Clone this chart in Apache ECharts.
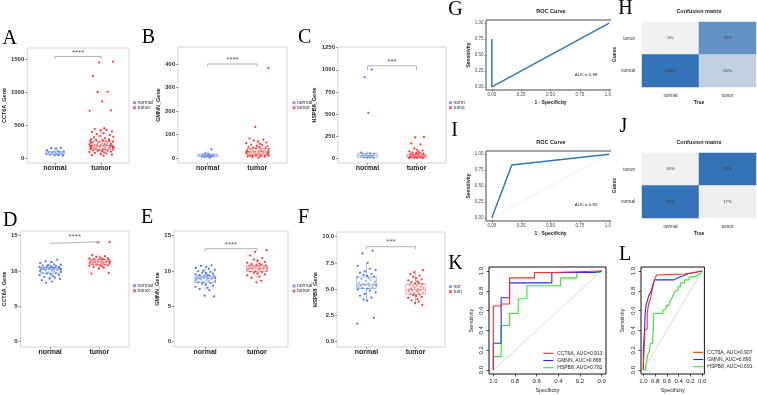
<!DOCTYPE html>
<html>
<head>
<meta charset="utf-8">
<script src="https://cdn.jsdelivr.net/npm/echarts@6/dist/echarts.min.js"></script>
<style>
  html, body { margin: 0; background: #fff; }
  #main { width: 757px; height: 395px; }
</style>
</head>
<body>
<div id="main"></div>
<script>
// ---- data ----
const groups = ['normal', 'tumor'];

// A: CCT6A counts
const aNormal = [152, 148, 141, 118, 104, 97, 91, 86, 80, 77, 73, 68, 64, 58, 52, 47, 41, 36];
const aTumor = [1462, 1448, 1243, 1004, 998, 858, 722, 716,
  452, 438, 425, 418, 405, 392, 376, 361, 348, 333, 322, 311, 298, 287, 281, 274, 266, 259, 252, 247,
  241, 236, 229, 224, 218, 213, 208, 204, 199, 195, 191, 187, 183, 178, 174, 171, 167, 163, 159, 156,
  152, 148, 144, 139, 135, 131, 127, 122, 118, 113, 108, 102, 96, 89, 83, 76, 68, 59, 51, 42, 33,
  197, 186, 172, 161, 149, 214, 232, 256, 141, 126, 179, 203, 168];
const aBox = [[35, 50, 76, 100, 160], [30, 126, 191, 252, 440]];

// B: GMNN counts
const bNormal = [38, 21, 17, 15, 14, 13, 12.5, 12, 11, 10.5, 10, 9, 8, 7, 5, 3];
const bTumor = [382, 133, 84, 79, 75, 71, 67, 64, 61, 58, 56, 53, 51, 49, 47, 45, 43, 42, 40, 39, 37,
  36, 34, 33, 32, 31, 30, 29, 28, 27, 26, 25, 24, 23, 22, 21, 20, 19, 18, 17, 16, 15, 14, 13, 12, 11,
  10, 9, 8, 7, 5, 3, 29, 33, 22, 18, 26];
const bBox = [[3, 7, 12.5, 18, 30], [0, 14, 28, 42, 80]];

// C: HSPB8 counts
const cNormal = [1003, 917, 515, 64, 57, 51, 46, 41, 36, 33, 29, 26, 22, 18, 14, 11, 8, 5];
const cTumor = [242, 236, 168, 158, 112, 96, 88, 79, 73, 67, 62, 58, 53, 49, 46, 42, 39, 36, 33, 31,
  29, 27, 25, 23, 21, 19, 17, 15, 13, 11, 9, 7, 5, 3, 1];
const cBox = [[0, 11, 32, 56, 75], [0, 15, 27, 45, 90]];

// D: CCT6A expression
const dNormal = [11.62, 11.38, 11.27, 11.13, 10.96, 10.91, 10.83, 10.79, 10.74, 10.68, 10.66, 10.58,
  10.55, 10.51, 10.47, 10.46, 10.41, 10.39, 10.37, 10.34, 10.31, 10.3, 10.27, 10.25, 10.22, 10.19,
  10.16, 10.12, 10.08, 10.03, 9.98, 9.94, 9.87, 9.83, 9.76, 9.72, 9.66, 9.58, 9.47, 9.41, 9.28, 9.19,
  9.07, 8.96, 8.88, 8.71, 8.52, 8.33];
const dTumor = [14.1, 14.05, 12.25, 12.1, 12.0, 11.92, 11.85, 11.8, 11.74, 11.69, 11.65, 11.6, 11.57,
  11.52, 11.48, 11.44, 11.41, 11.37, 11.33, 11.3, 11.28, 11.26, 11.23, 11.2, 11.17, 11.13, 11.09,
  11.06, 11.02, 10.98, 10.94, 10.9, 10.86, 10.81, 10.75, 10.67, 10.58, 10.47, 10.35, 9.72, 9.65];
const dBox = [[8.6, 9.7, 10.28, 10.5, 11.6], [10.35, 10.9, 11.27, 11.6, 12.3]];

// E: GMNN expression
const eNormal = [10.82, 10.74, 10.61, 10.45, 10.3, 10.17, 10.05, 9.96, 9.88, 9.79, 9.71, 9.63, 9.55,
  9.48, 9.41, 9.35, 9.3, 9.26, 9.21, 9.17, 9.13, 9.08, 9.04, 9.01, 8.98, 8.94, 8.9, 8.85, 8.8, 8.74,
  8.68, 8.61, 8.55, 8.48, 8.42, 8.31, 8.2, 8.07, 7.93, 7.78, 7.62, 7.45, 7.31, 6.52, 6.41];
const eTumor = [12.95, 12.72, 12.2, 11.85, 11.62, 11.45, 11.3, 11.18, 11.07, 10.98, 10.9, 10.83, 10.77,
  10.72, 10.67, 10.62, 10.57, 10.52, 10.47, 10.43, 10.39, 10.35, 10.31, 10.27, 10.22, 10.17, 10.11,
  10.05, 9.99, 9.94, 9.86, 9.77, 9.66, 9.52, 9.38, 9.21, 9.04, 8.62, 8.41];
const eBox = [[7.3, 8.4, 9.0, 9.3, 10.65], [9.04, 9.95, 10.4, 10.75, 11.85]];

// F: HSPB8 expression
const fNormal = [8.67, 8.42, 7.52, 7.23, 6.95, 6.82, 6.71, 6.58, 6.45, 6.36, 6.27, 6.2, 6.14, 6.05,
  5.96, 5.88, 5.79, 5.7, 5.62, 5.55, 5.5, 5.46, 5.43, 5.39, 5.34, 5.29, 5.24, 5.18, 5.12, 5.07, 4.98,
  4.86, 4.71, 4.55, 4.38, 4.2, 4.02, 3.91, 2.28, 1.72];
const fTumor = [6.82, 6.61, 6.44, 6.3, 6.17, 6.05, 5.94, 5.85, 5.76, 5.68, 5.6, 5.53, 5.48, 5.42,
  5.36, 5.3, 5.24, 5.18, 5.12, 5.06, 5.01, 4.97, 4.93, 4.89, 4.84, 4.79, 4.74, 4.69, 4.63, 4.57, 4.52,
  4.44, 4.36, 4.27, 4.17, 4.06, 3.94, 3.82, 3.68, 3.52];
const fBox = [[3.91, 5.08, 5.43, 6.16, 7.52], [3.52, 4.54, 4.95, 5.5, 6.82]];

// G, I: ROC curves (1 - specificity, sensitivity)
const gRoc = [[0, 0.75], [0, 0], [1, 1]];
const iRoc = [[0, 0], [0.17, 0.83], [1, 1]];
const gAuc = 'AUC = 0.88';
const iAuc = 'AUC = 0.83';

// H, J: confusion matrices [trueIdx, guessIdx, percent]
const hCells = [[0, 1, 0], [1, 1, 75], [0, 0, 100], [1, 0, 25]];
const jCells = [[0, 1, 16], [1, 1, 83], [0, 0, 83], [1, 0, 17]];

// K, L: ROC curves (specificity, sensitivity)
const kNames = ['CCT6A, AUC=0.913', 'GMNN, AUC=0.868', 'HSPB8, AUC=0.782'];
const kRed = [[1, 0], [1, 0.646], [0.928, 0.646], [0.928, 0.667], [0.85, 0.667], [0.85, 0.93],
  [0.62, 0.93], [0.62, 0.985], [0.46, 0.985], [0.46, 1], [0, 1]];
const kBlue = [[1, 0], [1, 0.27], [0.928, 0.27], [0.928, 0.73], [0.85, 0.73], [0.85, 0.88],
  [0.46, 0.88], [0.46, 0.985], [0.07, 0.985], [0.07, 1], [0, 1]];
const kGreen = [[1, 0], [1, 0.135], [0.928, 0.135], [0.928, 0.45], [0.85, 0.45], [0.85, 0.57],
  [0.77, 0.57], [0.77, 0.72], [0.69, 0.72], [0.69, 0.85], [0.38, 0.85], [0.38, 0.93], [0.23, 0.93],
  [0.23, 0.985], [0.02, 0.985], [0, 1]];
const lNames = ['CCT6A, AUC=0.907', 'GMNN, AUC=0.890', 'HSPB8, AUC=0.691'];
const lRed = [[1, 0], [1, 0.05], [0.985, 0.05], [0.985, 0.22], [0.975, 0.22], [0.975, 0.4], [0.955, 0.4],
  [0.955, 0.42], [0.935, 0.42], [0.935, 0.57], [0.91, 0.57], [0.91, 0.67], [0.88, 0.67], [0.88, 0.72],
  [0.85, 0.72], [0.85, 0.81], [0.83, 0.81], [0.83, 0.86], [0.8, 0.86], [0.8, 0.93], [0.77, 0.93],
  [0.77, 0.96], [0.74, 0.96], [0.74, 0.97], [0.3, 0.97], [0.3, 0.985], [0.12, 0.985], [0.12, 1], [0, 1]];
const lBlue = [[1, 0], [1, 0.23], [0.99, 0.23], [0.99, 0.3], [0.98, 0.3], [0.98, 0.4], [0.97, 0.4],
  [0.97, 0.57], [0.95, 0.57], [0.95, 0.67], [0.93, 0.67], [0.93, 0.7], [0.91, 0.7], [0.91, 0.75],
  [0.88, 0.75], [0.88, 0.78], [0.86, 0.78], [0.86, 0.81], [0.84, 0.81], [0.84, 0.86], [0.81, 0.86],
  [0.81, 0.91], [0.48, 0.91], [0.48, 0.93], [0.42, 0.93], [0.42, 0.95], [0.33, 0.95], [0.33, 0.97],
  [0.25, 0.97], [0.25, 0.985], [0.14, 0.985], [0.14, 1], [0, 1]];
const lGreen = [[1, 0], [0.96, 0], [0.96, 0.05], [0.94, 0.05], [0.94, 0.1], [0.93, 0.1], [0.93, 0.15],
  [0.9, 0.15], [0.9, 0.18], [0.88, 0.18], [0.88, 0.27], [0.84, 0.27], [0.84, 0.33], [0.82, 0.33],
  [0.82, 0.57], [0.67, 0.57], [0.67, 0.6], [0.64, 0.6], [0.64, 0.62], [0.61, 0.62], [0.61, 0.65],
  [0.57, 0.65], [0.57, 0.67], [0.54, 0.67], [0.54, 0.7], [0.51, 0.7], [0.51, 0.73], [0.48, 0.73],
  [0.48, 0.77], [0.45, 0.77], [0.45, 0.8], [0.41, 0.8], [0.41, 0.84], [0.37, 0.84], [0.37, 0.88],
  [0.3, 0.88], [0.3, 0.91], [0.22, 0.91], [0.22, 0.94], [0.14, 0.94], [0.14, 0.96], [0.07, 0.96],
  [0.07, 0.98], [0.02, 0.98], [0.02, 1], [0, 1]];

// fixed jitter pattern (horizontal spread of the dots, as fraction of width)
const jitter = [0.62, -0.41, 0.13, -0.88, 0.35, 0.94, -0.17, -0.66, 0.51, -0.29, 0.08, 0.77, -0.93,
  0.24, -0.52, 0.41, -0.05, 0.86, -0.74, 0.19, -0.36, 0.69, -0.12, 0.97, -0.58, 0.3, -0.81];

// ---- building the option ----
const FONT = 'Liberation Sans';
const grids = [], xAxes = [], yAxes = [], series = [], visualMaps = [], graphics = [];
const noLine = {show: false, onZero: false};

function txt(x, y, s, o) {
  graphics.push({type: 'text', x: x, y: y, z: 20,
    style: Object.assign({text: s, fontSize: 5, fontFamily: FONT, fill: '#222', align: 'center', verticalAlign: 'middle'}, o || {})});
}

function addGrid(g, border) {
  grids.push(Object.assign({show: true, borderColor: border, borderWidth: 1, backgroundColor: 'transparent', containLabel: false}, g));
  return grids.length - 1;
}

function renderBox(params, api) {
  const x = api.value(0), hw = 0.2;
  const col = x === 0 ? 'rgba(65,105,225,0.55)' : 'rgba(240,50,50,0.5)';
  const c = (xx, yy) => api.coord([xx, yy]);
  const tl = c(x - hw, api.value(4)), br = c(x + hw, api.value(2));
  const m1 = c(x - hw, api.value(3)), m2 = c(x + hw, api.value(3));
  const top = c(x, api.value(5)), q3 = c(x, api.value(4)), q1 = c(x, api.value(2)), bot = c(x, api.value(1));
  const st = {stroke: col, fill: 'none', lineWidth: 0.8};
  return {type: 'group', children: [
    {type: 'rect', shape: {x: tl[0], y: tl[1], width: br[0] - tl[0], height: br[1] - tl[1]},
      style: {stroke: col, fill: 'rgba(255,255,255,0.45)', lineWidth: 0.8}},
    {type: 'line', shape: {x1: m1[0], y1: m1[1], x2: m2[0], y2: m2[1]}, style: st},
    {type: 'line', shape: {x1: top[0], y1: top[1], x2: q3[0], y2: q3[1]}, style: st},
    {type: 'line', shape: {x1: q1[0], y1: q1[1], x2: bot[0], y2: bot[1]}, style: st}
  ]};
}

function boxPanel(p) {
  const gi = addGrid(p.grid, '#d4d4d4');
  xAxes.push({gridIndex: gi, type: 'value', min: -0.6, max: 1.6,
    splitLine: {show: false}, axisLine: noLine,
    axisTick: {show: true, length: 2, customValues: [0, 1], lineStyle: {color: '#555', width: 0.6}},
    axisLabel: {customValues: [0, 1], formatter: v => groups[Math.round(v)], margin: 2,
      fontSize: 7, fontWeight: 'bold', color: '#222', fontFamily: FONT}});
  yAxes.push({gridIndex: gi, type: 'value', min: p.yMin, max: p.yMax,
    name: p.yName, nameLocation: 'middle', nameGap: p.nameGap, nameRotate: 90,
    nameTextStyle: {fontSize: 5.5, fontWeight: 'bold', color: '#222', fontFamily: FONT},
    splitLine: {show: false}, axisLine: noLine,
    axisTick: {show: true, length: 2, customValues: p.ticks, lineStyle: {color: '#555', width: 0.6}},
    axisLabel: {customValues: p.ticks, formatter: p.fmt, margin: 3, fontSize: 6, fontWeight: 'bold',
      color: '#333', fontFamily: FONT}});
  const ai = xAxes.length - 1;
  [p.normal, p.tumor].forEach((vals, k) => {
    series.push({type: 'scatter', name: groups[k], xAxisIndex: ai, yAxisIndex: ai, symbolSize: 2.2,
      itemStyle: {color: k ? '#ff1f1f' : '#3a66e0', opacity: 0.9}, z: 2,
      data: vals.map((v, i) => [k + jitter[(i + k * 5) % jitter.length] * p.jit[k], v])});
  });
  series.push({type: 'custom', xAxisIndex: ai, yAxisIndex: ai, renderItem: renderBox, z: 3, silent: true,
    encode: {x: 0, y: [1, 2, 3, 4, 5]}, data: p.box.map((b, k) => [k].concat(b))});
  const yb = p.bracket[0], d = p.bracket[1];
  series.push({type: 'line', xAxisIndex: ai, yAxisIndex: ai, symbol: 'none', z: 3, silent: true,
    lineStyle: {color: '#a0a0a0', width: 0.8}, data: [[0, yb - d], [0, yb], [1, yb], [1, yb - d]]});
  series.push({type: 'scatter', xAxisIndex: ai, yAxisIndex: ai, symbolSize: 1, silent: true,
    itemStyle: {color: 'transparent'}, data: [[0.5, p.starY]],
    label: {show: true, position: 'inside', formatter: p.stars, fontSize: 8, color: '#333', fontFamily: FONT}});
  // legend keys
  const lx = p.legend[0], ly = p.legend[1];
  [['#7d9cf0', p.legText[0]], ['#f36a6a', p.legText[1]]].forEach((it, k) => {
    graphics.push({type: 'rect', z: 20, shape: {x: lx, y: ly + k * 5 - 1.5, width: 3, height: 3}, style: {fill: it[0]}});
    txt(lx + 4.5, ly + k * 5, it[1], {align: 'left', fontSize: 5, fill: '#333'});
  });
}

function rocPanel(p) {
  const gi = addGrid(p.grid, '#4a4a4a');
  const ticks = [0, 0.25, 0.5, 0.75, 1];
  const tick = {show: true, length: 1.5, customValues: ticks, lineStyle: {color: '#4a4a4a', width: 0.6}};
  const lab = {customValues: ticks, formatter: v => v.toFixed(2), fontSize: 4.5, color: '#4a4a4a', margin: 2.5, fontFamily: FONT};
  const nm = {fontSize: 5, fontWeight: 'bold', color: '#222', fontFamily: FONT};
  xAxes.push({gridIndex: gi, type: 'value', min: -0.05, max: 1.05, name: '1 - Specificity',
    nameLocation: 'middle', nameGap: 10.5, nameTextStyle: nm,
    splitLine: {show: false}, axisLine: noLine, axisTick: tick, axisLabel: lab});
  yAxes.push({gridIndex: gi, type: 'value', min: -0.05, max: 1.05, name: 'Sensitivity',
    nameLocation: 'middle', nameGap: 12.5, nameRotate: 90, nameTextStyle: nm,
    splitLine: {show: false}, axisLine: noLine, axisTick: tick, axisLabel: lab});
  const ai = xAxes.length - 1;
  series.push({type: 'line', xAxisIndex: ai, yAxisIndex: ai, symbol: 'none', silent: true,
    lineStyle: {color: '#e2e2e2', width: 0.6}, data: [[0, 0], [1, 1]]});
  series.push({type: 'line', xAxisIndex: ai, yAxisIndex: ai, symbol: 'none', silent: true,
    lineStyle: {color: '#2b7bba', width: 1.5}, data: p.data});
  txt(p.title[0], p.title[1], 'ROC Curve', {fontWeight: 'bold', fontSize: 5.5});
  txt(p.auc[0], p.auc[1], p.aucText, {fontSize: 4.3});
}

function matrixPanel(p) {
  const gi = addGrid(p.grid, 'transparent');
  const nm = {fontSize: 5, fontWeight: 'bold', color: '#222', fontFamily: FONT};
  xAxes.push({gridIndex: gi, type: 'category', data: groups, z: 10, name: 'True', nameLocation: 'middle',
    nameGap: 13.5, nameTextStyle: nm, axisLine: {show: false}, axisTick: {show: false}, splitLine: {show: false},
    axisLabel: {fontSize: 4.6, color: '#333', margin: 6.5, fontFamily: FONT}});
  yAxes.push({gridIndex: gi, type: 'category', data: groups, z: 10, name: 'Guess', nameLocation: 'middle',
    nameGap: 24.5, nameRotate: 90, nameTextStyle: nm, axisLine: {show: false}, axisTick: {show: false},
    splitLine: {show: false}, axisLabel: {fontSize: 4.6, color: '#333', margin: 7, fontFamily: FONT}});
  const ai = xAxes.length - 1;
  series.push({type: 'heatmap', xAxisIndex: ai, yAxisIndex: ai, data: p.cells, silent: true,
    label: {show: true, formatter: d => d.value[2] + '%', fontSize: 4.3, color: '#333', fontFamily: FONT}});
  visualMaps.push({show: false, type: 'continuous', seriesIndex: series.length - 1,
    min: p.range[0], max: p.range[1], inRange: {color: ['#f1f1f1', '#3372b5']}});
  txt(p.title[0], p.title[1], 'Confusion matrix', {fontWeight: 'bold', fontSize: 5.5});
}

function multiRocPanel(p) {
  const gi = addGrid(p.grid, '#111');
  const ticks = [0, 0.2, 0.4, 0.6, 0.8, 1];
  const tick = {show: true, length: 2.5, customValues: ticks, lineStyle: {color: '#111', width: 0.7}};
  const nm = {fontSize: 5.3, color: '#222', fontFamily: FONT};
  xAxes.push({gridIndex: gi, type: 'value', inverse: true, min: -0.04, max: 1.04, name: 'Specificity',
    nameLocation: 'middle', nameGap: 14, nameTextStyle: nm, splitLine: {show: false}, axisLine: noLine,
    axisTick: tick, axisLabel: {customValues: ticks, formatter: v => v.toFixed(1), fontSize: 6, color: '#222', margin: 4.5, fontFamily: FONT}});
  yAxes.push({gridIndex: gi, type: 'value', min: -0.04, max: 1.04, name: 'Sensitivity',
    nameLocation: 'middle', nameGap: p.nameGap, nameRotate: 90, nameTextStyle: nm,
    splitLine: {show: false}, axisLine: noLine,
    axisTick: tick, axisLabel: {customValues: ticks, formatter: v => v.toFixed(1), rotate: 90, fontSize: 6, color: '#222', margin: 5, fontFamily: FONT}});
  const ai = xAxes.length - 1;
  series.push({type: 'line', xAxisIndex: ai, yAxisIndex: ai, symbol: 'none', silent: true,
    lineStyle: {color: '#c8c8c8', width: 0.7}, data: [[1, 0], [0, 1]]});
  const cols = ['#ff2a2a', '#2a2aff', '#2ee82e'];
  [p.green, p.blue, p.red].forEach((d, k) => {
    series.push({type: 'line', name: p.names[2 - k], xAxisIndex: ai, yAxisIndex: ai, symbol: 'none', silent: true,
      lineStyle: {color: cols[2 - k], width: 1.1}, data: d});
  });
  const lx = p.legend[0], ly = p.legend[1];
  p.names.forEach((n, k) => {
    graphics.push({type: 'line', z: 20, shape: {x1: lx, y1: ly + k * 7.2, x2: lx + 10, y2: ly + k * 7.2},
      style: {stroke: cols[k], lineWidth: 1.1}});
    txt(lx + 14, ly + k * 7.2, n, {align: 'left', fontSize: 5, fill: '#222'});
  });
}

boxPanel({grid: {left: 21, top: 48, width: 108, height: 115}, yMin: -76, yMax: 1667,
  ticks: [0, 500, 1000, 1500], fmt: v => String(v), yName: 'CCT6A_Gene', nameGap: 13,
  normal: aNormal, tumor: aTumor, box: aBox, jit: [0.2, 0.27], bracket: [1539, 40], stars: '****', starY: 1600,
  legend: [133, 102.7], legText: ['normal', 'tumor']});
boxPanel({grid: {left: 178, top: 47, width: 109, height: 116}, yMin: -20, yMax: 472,
  ticks: [0, 100, 200, 300, 400], fmt: v => String(v), yName: 'GMNN_Gene', nameGap: 13,
  normal: bNormal, tumor: bTumor, box: bBox, jit: [0.12, 0.24], bracket: [400, 11], stars: '****', starY: 416,
  legend: [292.5, 102.7], legText: ['normal', 'tumor']});
boxPanel({grid: {left: 338, top: 47, width: 108, height: 116}, yMin: -53, yMax: 1258,
  ticks: [0, 250, 500, 750, 1000, 1250], fmt: v => String(v), yName: 'HSPB8_Gene', nameGap: 12.75,
  normal: cNormal, tumor: cTumor, box: cBox, jit: [0.14, 0.16], bracket: [1046, 49], stars: '***', starY: 1088,
  legend: [449, 102.7], legText: ['norm', 'tumo']});
boxPanel({grid: {left: 17, top: 231, width: 112, height: 116}, yMin: -0.75, yMax: 15.67,
  ticks: [0, 5, 10, 15], fmt: v => String(v), yName: 'CCT6A_Gene', nameGap: 9.25,
  normal: dNormal, tumor: dTumor, box: dBox, jit: [0.23, 0.22], bracket: [14.15, 0.24], stars: '****', starY: 14.8,
  legend: [133, 285.7], legText: ['normal', 'tumor']});
boxPanel({grid: {left: 174, top: 231, width: 114, height: 116}, yMin: -0.75, yMax: 15.67,
  ticks: [0, 5, 10, 15], fmt: v => String(v), yName: 'GMNN_Gene', nameGap: 9.25,
  normal: eNormal, tumor: eTumor, box: eBox, jit: [0.2, 0.2], bracket: [13.16, 0.33], stars: '****', starY: 13.78,
  legend: [292.5, 286], legText: ['normal', 'tumor']});
boxPanel({grid: {left: 337, top: 232, width: 108, height: 115}, yMin: -0.5, yMax: 10.45,
  ticks: [0, 2.5, 5, 7.5, 10], fmt: v => v.toFixed(1), yName: 'HSPB8_Gene', nameGap: 13,
  normal: fNormal, tumor: fTumor, box: fBox, jit: [0.2, 0.16], bracket: [9.05, 0.22], stars: '***', starY: 9.5,
  legend: [449, 286.7], legText: ['nor', 'tum']});

rocPanel({grid: {left: 486, top: 20, width: 129, height: 70}, data: gRoc, title: [551, 11.7], auc: [586, 75], aucText: gAuc});
rocPanel({grid: {left: 486, top: 151, width: 129, height: 70}, data: iRoc, title: [551, 142.3], auc: [586, 205], aucText: iAuc});
matrixPanel({grid: {left: 642, top: 22, width: 114, height: 65}, cells: hCells, range: [0, 100], title: [699, 11.7]});
matrixPanel({grid: {left: 642, top: 153, width: 114, height: 65}, cells: jCells, range: [16, 83], title: [699, 142.3]});
multiRocPanel({grid: {left: 489, top: 267, width: 117, height: 107}, red: kRed, blue: kBlue, green: kGreen,
  names: kNames, legend: [543.3, 353.3], nameGap: 15});
multiRocPanel({grid: {left: 641, top: 267, width: 115, height: 107}, red: lRed, blue: lBlue, green: lGreen,
  names: lNames, legend: [693.3, 352.3], nameGap: 16});

// the ROC images G and I are cut off on their right side by H and J
graphics.push({type: 'rect', z: 5, shape: {x: 611, y: 0, width: 30, height: 240}, style: {fill: '#fff'}});

// panel letters
[['A', 9.7, 38.3], ['B', 148.3, 37.5], ['C', 304.7, 37.5], ['D', 10.3, 220.3], ['E', 147, 218],
 ['F', 303.5, 217.5], ['G', 455.5, 9.7], ['H', 625.5, 8.8], ['I', 454.7, 130.8], ['J', 623.5, 126.3],
 ['K', 455.5, 263.5], ['L', 625, 255]].forEach(l => {
  txt(l[1], l[2], l[0], {fontFamily: 'Liberation Serif', fontSize: 20, fill: '#000'});
});

const chart = echarts.init(document.getElementById('main'), null, {renderer: 'canvas'});
chart.setOption({
  animation: false,
  textStyle: {fontFamily: FONT},
  grid: grids,
  xAxis: xAxes,
  yAxis: yAxes,
  visualMap: visualMaps,
  series: series,
  graphic: {elements: graphics}
});
</script>
</body>
</html>
